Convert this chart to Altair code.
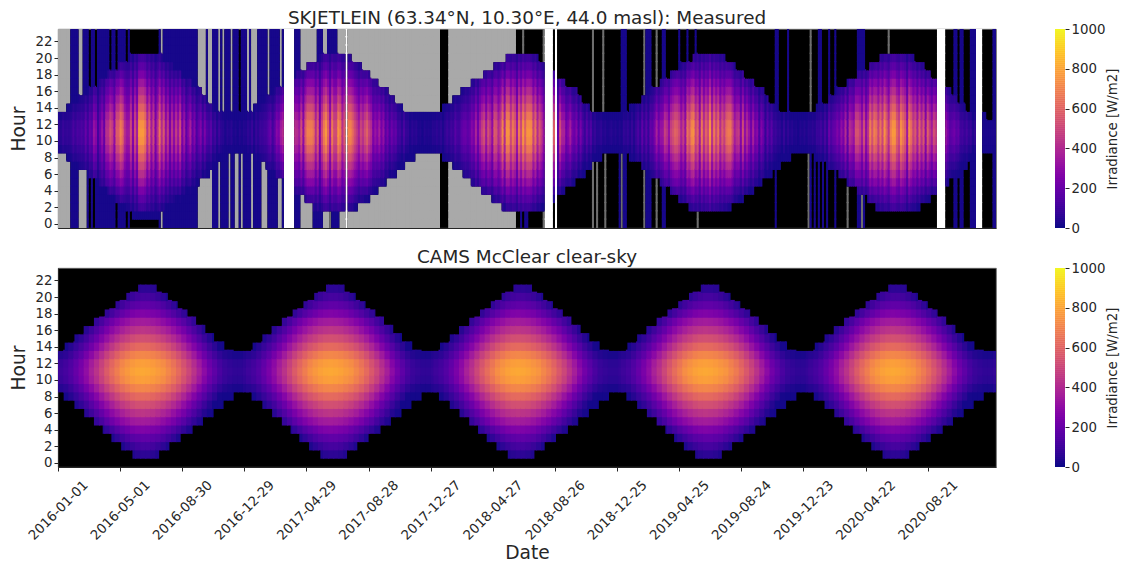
import altair as alt
import pandas as pd

alt.data_transformers.disable_max_rows()

FONT = "DejaVu Sans"
INK = "#262626"
TOTAL_DAYS = 1827
year_starts = [0, 366, 731, 1096, 1461]
tick_days = [121 * i for i in range(15)]
tick_labels = ["2016-01-01", "2016-05-01", "2016-08-30", "2016-12-29", "2017-04-29",
               "2017-08-28", "2017-12-27", "2018-04-27", "2018-08-26", "2018-12-25",
               "2019-04-25", "2019-08-24", "2019-12-23", "2020-04-22", "2020-08-21"]
hour_ticks = list(range(0, 23, 2))

# clear-sky irradiance by distance from hour 11 (rows) and ten-day step of the year (columns)
clear_k0 = [90,110,140,190,240,300,370,430,500,570,630,680,730,760,785,800,805,800,790,770,750,710,670,620,560,500,430,360,290,220,170,120,85,70,60,60,70]
clear_k1 = [80,100,130,175,225,285,350,410,480,545,605,655,705,735,760,775,780,775,765,745,725,685,645,595,535,475,405,335,265,200,150,105,75,60,50,50,60]
clear_k2 = [40,55,85,125,170,225,285,345,410,475,530,585,630,660,690,705,710,705,695,675,650,615,575,525,465,405,340,270,205,145,100,60,35,25,20,20,30]
clear_k3 = [0,15,40,75,115,160,215,270,330,390,445,495,540,570,600,615,620,615,605,585,560,525,485,435,380,320,260,200,145,90,50,15,10,10,0,0,0]
clear_k4 = [0,0,0,30,60,100,150,200,255,310,360,410,450,480,510,525,530,525,515,495,470,435,395,350,300,245,190,135,85,40,10,10,5,0,0,0,0]
clear_k5 = [0,0,0,0,0,45,90,135,185,235,285,325,365,395,420,435,440,435,425,405,380,350,310,270,225,175,125,80,35,15,10,0,0,0,0,0,0]
clear_k6 = [0,0,0,0,0,0,0,70,115,165,210,250,285,310,335,345,350,345,335,320,295,265,230,190,150,105,65,30,15,0,0,0,0,0,0,0,0]
clear_k7 = [0,0,0,0,0,0,0,0,30,65,105,145,180,210,235,250,255,250,240,225,200,170,135,100,65,30,20,0,0,0,0,0,0,0,0,0,0]
clear_k8 = [0,0,0,0,0,0,0,0,0,0,25,60,95,125,150,165,175,175,165,150,125,95,60,25,0,0,0,0,0,0,0,0,0,0,0,0,0]
clear_k9 = [0,0,0,0,0,0,0,0,0,0,0,0,25,55,80,100,110,110,100,80,55,25,0,0,0,0,0,0,0,0,0,0,0,0,0,0,0]
clear_k10 = [0,0,0,0,0,0,0,0,0,0,0,0,0,0,30,45,55,55,45,30,0,0,0,0,0,0,0,0,0,0,0,0,0,0,0,0,0]
clear_table = [clear_k0, clear_k1, clear_k2, clear_k3, clear_k4, clear_k5, clear_k6, clear_k7, clear_k8, clear_k9, clear_k10]

span_hours = [1, 2, 3, 4, 5, 6, 7, 8, 14, 15, 16, 17, 18, 19, 20, 21]
clear_start = [145, 123, 104, 87, 70, 51, 32, 11, 13, 32, 50, 70, 91, 112, 133, 156]
clear_end = [197, 217, 239, 261, 282, 303, 322, 343, 324, 304, 287, 269, 251, 233, 214, 191]
meas_start = [999, 132, 114, 95, 75, 58, 39, 16, 16, 39, 55, 75, 97, 118, 141, 999]
meas_end = [0, 217, 240, 258, 275, 295, 310, 330, 305, 289, 279, 258, 240, 225, 205, 0]

# four-day columns of the measured panel: share of clear-sky level, read from the streaks
factor_lines = [
    "65756456464536354762463778748898544636499985746358",
    "57463647584635746357486574638452647352635364725364",
    "54683576990000076584899985736897486698578998765768",
    "98746585746475846375536473526453646352463546435654",
    "46574689586487569599687486979996857649999953977468",
    "65748637584635746357463527463524637352646857697588",
    "98756487996748576958685768997567485764756375264735",
    "35263746352647354637574638576858694876997584697986",
    "86975899769874986758684976985656764675846465747466",
    "3333333",
]

# what fills the hours outside the daylight span: g missing, k zero, b faint, n faint but row 0 zero, a streak, w no data
night_upper = [
    "ggggggbbbbggbbbkbbkbbbbbbkbbkbbbbkb" + "k" * 14 + "b",
    "gbbbbbbbbbbbbbbbbbggggbggbbbgbgbbbgbbbkbbbgbgggbbb",
    "bbgbbbbbgbwwwwwbbbggggggggbbbggbbbbbggggwggggggggg",
    "g" * 36 + "kkkk" + "g" * 10,
    "g" * 23 + "kkka" + "k" * 9 + "awwwwkw" + "k" * 7,
    "k" * 10 + "a" + "k" * 4 + "a" + "k" * 8 + "bbb" + "k" * 8 + "abbbkkakkbbkkkk",
    "kkbkkkbkkkb" + "k" * 38 + "b",
    "bkkkkb" + "k" * 10 + "akkkbbkkkbkkb" + "k" * 10 + "bbbb" + "k" * 7,
    "kkkka" + "k" * 23 + "wwwwkkkkbbkbbkkkbbbwww",
    "kkkkkbb",
]
night_lower = [
    "ggggggbbbbggggbkbk" + "b" * 10 + "kbbbbkbk" + "n" * 13 + "b",
    "g" + "b" * 17 + "g" * 7 + "bbbgbbbbgbbggbgbbbbgbbbbg",
    "ggbbbbbggbwwwwwbbbggggggbbbbbgggabbbbgggw" + "g" * 9,
    "g" * 36 + "kkkk" + "g" * 10,
    "g" * 23 + "kkbkbb" + "k" * 7 + "awwwwkw" + "k" * 7,
    "k" * 10 + "akakkka" + "k" * 6 + "babb" + "k" * 8 + "abbbkkakkbbkkkk",
    "k" * 11 + "a" + "k" * 37 + "b",
    "k" * 15 + "abkbkbkbkbk" + "kkb" + "k" * 5 + "akkkkbbab" + "k" * 7,
    "k" * 28 + "wwwwkkkkbbkbbkkkbbbwww",
    "kkkkkbb",
]
kind_names = ["g", "k", "w", "a"]
kind_colors = ["#a9a9a9", "#000000", "#ffffff", "#6e6e6e"]
FAINT = 15
LAST_ROW13_DAY = 1805


def fit(lines):
    out = ""
    for i, line in enumerate(lines):
        out += line if i == len(lines) - 1 else line.ljust(50, "k")[:50]
    return out


upper = fit(night_upper)
lower = fit(night_lower)
digits = "".join(factor_lines)


def year_of(day):
    base = year_starts[0]
    for s in year_starts:
        if day >= s:
            base = s
    return base


X_LAP = 2.2   # days; about one pixel, so neighbouring cells leave no seam
Y_LAP = 0.15  # hours

clear_rows = []
for ys in year_starts:
    for col in range(37):
        for hour in range(24):
            k = abs(hour - 11)
            if k > 10:
                continue
            v = clear_table[k][col]
            if v == 0:
                continue
            d0, d1 = ys + col * 10, ys + col * 10 + 10
            lap = X_LAP
            if hour in span_hours:
                j = span_hours.index(hour)
                d0 = max(d0, ys + clear_start[j])
                if d1 >= ys + clear_end[j]:
                    d1 = ys + clear_end[j]
                    lap = 0
            next_on = abs(hour + 1 - 11) <= 10 and clear_table[abs(hour + 1 - 11)][col] > 0
            if d0 < d1:
                clear_rows.append({"d0": d0, "d1": d1 + lap, "h0": hour - 0.5,
                                   "h1": hour + 0.5 + (Y_LAP if next_on else 0), "v": v})

n_cols = TOTAL_DAYS // 4 + 1


def column_cells(c):
    d0 = c * 4
    ys = year_of(d0 + 2)
    doy = d0 + 2 - ys
    col = min(doy // 10, 36)
    up = upper[c] if c < len(upper) else "k"
    lo = lower[c] if c < len(lower) else "k"
    f = int(digits[c]) / 10 + 0.05 if c < len(digits) else 0.3
    cells = []
    for hour in range(24):
        k = abs(hour - 11)
        if up == "w":
            cells.append("w")
            continue
        if 9 <= hour <= 13:
            lit = not (hour == 13 and d0 >= LAST_ROW13_DAY)
        elif hour in span_hours:
            j = span_hours.index(hour)
            lit = meas_start[j] <= doy <= meas_end[j]
        else:
            lit = False
        if lit:
            cells.append(max(clear_table[k][col] * f, FAINT))
            continue
        ch = up if hour > 11 else lo
        if ch == "n":
            ch = "k" if hour == 0 else "b"
        cells.append(FAINT if ch == "b" else ch)
    return cells


columns = [column_cells(c) for c in range(n_cols)]
meas_rows, kind_rows = [], []
for c, cells in enumerate(columns):
    d0 = c * 4
    nxt = columns[c + 1] if c + 1 < n_cols else cells
    for hour, cell in enumerate(cells):
        if isinstance(cell, str):
            if cell == "k":
                continue
            right = nxt[hour] == cell
            above = hour < 23 and cells[hour + 1] == cell
            kind_rows.append({"d0": d0, "d1": d0 + 4 + (X_LAP if right else 0), "h0": hour - 0.5,
                              "h1": hour + 0.5 + (Y_LAP if above else 0), "kind": cell})
        else:
            above = hour < 23 and not isinstance(cells[hour + 1], str)
            right = not isinstance(nxt[hour], str)
            meas_rows.append({"d0": d0, "d1": d0 + 4 + (X_LAP if right else 0), "h0": hour - 0.5,
                              "h1": hour + 0.5 + (Y_LAP if above else 0), "v": cell})

bar_rows = [{"v": v, "v2": v + 12} for v in range(0, 1000, 10)]

PLOT_W, PLOT_H = 938, 199
plasma = alt.Scale(scheme="plasma", domain=[0, 1000])
x_scale = alt.Scale(domain=[0, TOTAL_DAYS], nice=False, zero=False)
y_scale = alt.Scale(domain=[-0.5, 23.5], nice=False, zero=False)
label_expr = "[" + ",".join(f"'{t}'" for t in tick_labels) + "][round(datum.value/121)]"
panel_view = alt.ViewConfig(fill="black", stroke="#666666", strokeWidth=0.8)


def y_enc():
    return alt.Y("h0:Q", scale=y_scale, axis=alt.Axis(values=hour_ticks, title="Hour", grid=False, tickSize=4,
                 titleFontSize=18.67, titleFontWeight="normal", titlePadding=7, labelFontSize=13.33, format="d",
                 labelOverlap=False))


top_x = alt.X("d0:Q", scale=x_scale, axis=alt.Axis(values=tick_days, labels=False, ticks=False, title=None, grid=False))
bottom_x = alt.X("d0:Q", scale=x_scale, axis=alt.Axis(values=tick_days, labelExpr=label_expr, labelAngle=-45,
                 labelAlign="center", labelBaseline="middle", labelPadding=39, labelFontSize=13.33, tickSize=4,
                 labelOverlap=False, labelBound=False, labelFlush=False,
                 title="Date", titleFontSize=18.67, titleFontWeight="normal", titlePadding=2, grid=False))

top_kinds = alt.Chart(pd.DataFrame(kind_rows)).mark_rect(clip=True).encode(
    x=top_x, x2="d1:Q", y=y_enc(), y2="h1:Q",
    fill=alt.Fill("kind:N", scale=alt.Scale(domain=kind_names, range=kind_colors), legend=None),
)
top_vals = alt.Chart(pd.DataFrame(meas_rows)).mark_rect(clip=True).encode(
    x=top_x, x2="d1:Q", y=y_enc(), y2="h1:Q",
    color=alt.Color("v:Q", scale=plasma, legend=None),
)
top = alt.layer(top_kinds, top_vals).properties(
    width=PLOT_W, height=PLOT_H, view=panel_view,
    title=alt.TitleParams("SKJETLEIN (63.34°N, 10.30°E, 44.0 masl): Measured", fontSize=18.4, fontWeight="normal", offset=2),
)

bottom = alt.Chart(pd.DataFrame(clear_rows)).mark_rect(clip=True).encode(
    x=bottom_x, x2="d1:Q", y=y_enc(), y2="h1:Q",
    color=alt.Color("v:Q", scale=plasma, legend=None),
).properties(
    width=PLOT_W, height=PLOT_H, view=panel_view,
    title=alt.TitleParams("CAMS McClear clear-sky", fontSize=18.4, fontWeight="normal", offset=2),
)


def colorbar():
    return alt.Chart(pd.DataFrame(bar_rows)).mark_rect(clip=True).encode(
        y=alt.Y("v:Q", scale=alt.Scale(domain=[0, 1000], nice=False),
                axis=alt.Axis(orient="right", values=[0, 200, 400, 600, 800, 1000], title="Irradiance [W/m2]",
                              titleFontSize=13.33, titleFontWeight="normal", labelFontSize=13.33, grid=False,
                              domain=False, tickSize=4, titlePadding=15, titleAngle=270, format="d",
                              labelOverlap=False)),
        y2="v2:Q",
        color=alt.Color("v:Q", scale=plasma, legend=None),
    ).properties(width=10, height=PLOT_H, view=alt.ViewConfig(stroke=None))


chart = alt.vconcat(
    alt.hconcat(top, colorbar(), spacing=58),
    alt.hconcat(bottom, colorbar(), spacing=58),
    spacing=12,
).properties(
    padding={"left": 0, "top": 0, "right": 0, "bottom": 0},
    background="white",
).configure_axis(
    labelFont=FONT, titleFont=FONT, labelColor=INK, titleColor=INK, tickColor=INK, domainColor=INK,
).configure_title(font=FONT, color=INK, anchor="middle")

chart.save("out.html", embed_options={"renderer": "svg", "actions": False})
